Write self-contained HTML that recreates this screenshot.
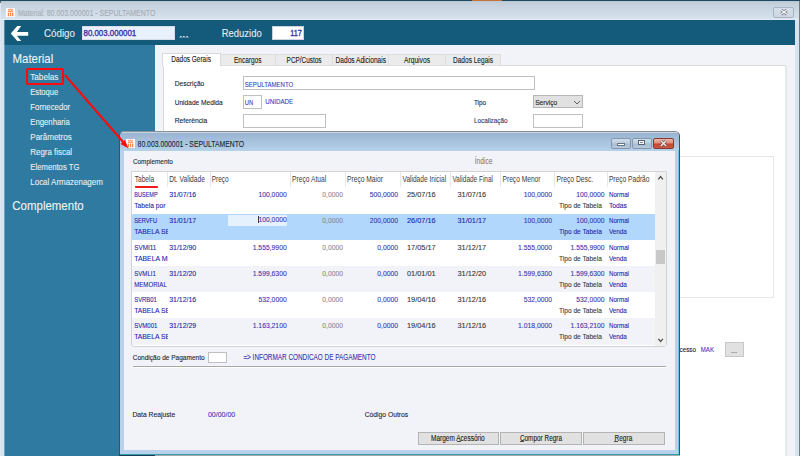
<!DOCTYPE html>
<html><head><meta charset="utf-8"><style>
html,body{margin:0;padding:0;width:800px;height:456px;overflow:hidden;position:relative;background:#f2f3f8;font-family:"Liberation Sans",sans-serif;}
div,span,svg{position:absolute;box-sizing:border-box;}
svg{overflow:visible;font-family:"Liberation Sans",sans-serif;}
.t{white-space:pre;transform-origin:0 0;}
</style></head><body>
<div style="left:0px;top:0px;width:800px;height:1px;background:#1b4a62;"></div>
<div style="left:472px;top:0px;width:30px;height:1px;background:#c87434;"></div>
<div style="left:0px;top:1px;width:800px;height:455px;background:#d6e3f1;"></div>
<div style="left:0px;top:3px;width:1px;height:453px;background:#dfe7f0;"></div>
<div style="left:0px;top:1px;width:2px;height:2px;background:#6a6e74;"></div>
<div style="left:799px;top:1px;width:1px;height:455px;background:#777a7e;"></div>
<div style="left:1px;top:1px;width:798px;height:19px;background:linear-gradient(#b9c6d3,#c3cfdb 2px,#d5e1ed 17px,#e6eef8);"></div>
<div style="left:6px;top:8px;width:9px;height:9px;background:#fff;"></div>
<svg style="left:6px;top:8px" width="9" height="9" viewBox="0 0 9 9"><g fill="#f8742f" opacity="0.85"><rect x="1.8" y="4.6" width="1.3" height="3.6"/><rect x="3.9" y="4.6" width="1.3" height="3.6"/><rect x="6.0" y="4.6" width="1.3" height="3.6"/></g><g stroke="#f8742f" stroke-width="1.1" fill="none" opacity="0.75"><path d="M2 1.2 L4.5 4 L7 1.2 M2 4 L4.5 1.2 L7 4"/></g></svg>
<svg style="left:17px;top:3px;" width="143" height="18"><text x="1.00" y="13" font-size="9.30" fill="#a3aab3" stroke="#a3aab3" stroke-width="0.1" textLength="137.40" lengthAdjust="spacingAndGlyphs">Material: 80.003.000001 - SEPULTAMENTO</text></svg>
<div style="left:773px;top:7px;width:21px;height:11px;background:linear-gradient(#d6dfe9,#ccd7e3);border:1px solid #aab4c4;border-radius:2px;"></div>
<svg style="left:779px;top:8px" width="10" height="9" viewBox="0 0 10 9"><path d="M2.3 2 L7.7 6.3 M7.7 2 L2.3 6.3" stroke="#70757c" stroke-width="2.8"/><path d="M2.3 2 L7.7 6.3 M7.7 2 L2.3 6.3" stroke="#f4f5f6" stroke-width="1.4"/></svg>
<div style="left:4px;top:20px;width:791px;height:25px;background:#135a7b;"></div>
<div style="left:4px;top:20px;width:1px;height:25px;background:#5f8aa4;"></div>
<svg style="left:0px;top:0px" width="40" height="50" viewBox="0 0 40 50"><path d="M10.8 33.6 L17.3 26.1 L21.2 26.1 L16.9 32.0 L28.2 32.0 L28.2 35.8 L16.9 35.8 L21.2 40.9 L17.3 40.9 Z" fill="#fff"/></svg>
<svg style="left:43px;top:22px;" width="36" height="21"><text x="1.00" y="15" font-size="10.76" fill="#e4ebf1" stroke="#e4ebf1" stroke-width="0.1" textLength="31.00" lengthAdjust="spacingAndGlyphs">Código</text></svg>
<div style="left:82px;top:26px;width:93px;height:14px;background:#e8f1fc;border:1px solid #d6dde6;"></div>
<svg style="left:82px;top:24px;" width="58" height="17"><text x="1.50" y="12" font-size="8.58" fill="#3c30a8" stroke="#3c30a8" stroke-width="0.35" textLength="52.70" lengthAdjust="spacingAndGlyphs">80.003.000001</text></svg>
<svg style="left:178px;top:25px;" width="15" height="17"><text x="1.30" y="12" font-size="8.72" fill="#ffffff" stroke="#ffffff" stroke-width="0.1" textLength="9.21" lengthAdjust="spacingAndGlyphs">...</text></svg>
<div style="left:179px;top:37px;width:10px;height:1px;background:#5d8cab;"></div>
<svg style="left:220px;top:22px;" width="46" height="21"><text x="1.70" y="15" font-size="10.76" fill="#e4ebf1" stroke="#e4ebf1" stroke-width="0.1" textLength="40.00" lengthAdjust="spacingAndGlyphs">Reduzido</text></svg>
<div style="left:272px;top:26px;width:32px;height:14px;background:#ffffff;border:1px solid #c8d4e0;"></div>
<svg style="left:289px;top:24px;" width="17" height="17"><text x="1.20" y="12" font-size="8.58" fill="#3c30a8" stroke="#3c30a8" stroke-width="0.35" textLength="11.60" lengthAdjust="spacingAndGlyphs">117</text></svg>
<div style="left:4px;top:45px;width:151px;height:411px;background:#2e7aa0;"></div>
<div style="left:4px;top:45px;width:1px;height:411px;background:#6fa3c2;"></div>
<svg style="left:11px;top:46px;" width="46" height="23"><text x="1.50" y="17" font-size="12.06" fill="#eef3f7" stroke="#eef3f7" stroke-width="0.1" textLength="40.80" lengthAdjust="spacingAndGlyphs">Material</text></svg>
<svg style="left:29px;top:67px;" width="33" height="17"><text x="1.30" y="13" font-size="8.72" fill="#e9eff4" stroke="#e9eff4" stroke-width="0.1" textLength="28.00" lengthAdjust="spacingAndGlyphs">Tabelas</text></svg>
<svg style="left:29px;top:82px;" width="33" height="17"><text x="1.30" y="13" font-size="8.72" fill="#e9eff4" stroke="#e9eff4" stroke-width="0.1" textLength="27.90" lengthAdjust="spacingAndGlyphs">Estoque</text></svg>
<svg style="left:29px;top:97px;" width="45" height="17"><text x="1.30" y="13" font-size="8.72" fill="#e9eff4" stroke="#e9eff4" stroke-width="0.1" textLength="39.90" lengthAdjust="spacingAndGlyphs">Fornecedor</text></svg>
<svg style="left:29px;top:112px;" width="45" height="17"><text x="1.30" y="13" font-size="8.72" fill="#e9eff4" stroke="#e9eff4" stroke-width="0.1" textLength="39.59" lengthAdjust="spacingAndGlyphs">Engenharia</text></svg>
<svg style="left:29px;top:127px;" width="47" height="17"><text x="1.30" y="13" font-size="8.72" fill="#e9eff4" stroke="#e9eff4" stroke-width="0.1" textLength="41.40" lengthAdjust="spacingAndGlyphs">Parâmetros</text></svg>
<svg style="left:29px;top:142px;" width="47" height="17"><text x="1.30" y="13" font-size="8.72" fill="#e9eff4" stroke="#e9eff4" stroke-width="0.1" textLength="41.80" lengthAdjust="spacingAndGlyphs">Regra fiscal</text></svg>
<svg style="left:29px;top:157px;" width="55" height="17"><text x="1.30" y="13" font-size="8.72" fill="#e9eff4" stroke="#e9eff4" stroke-width="0.1" textLength="49.20" lengthAdjust="spacingAndGlyphs">Elementos TG</text></svg>
<svg style="left:29px;top:172px;" width="78" height="17"><text x="1.30" y="13" font-size="8.72" fill="#e9eff4" stroke="#e9eff4" stroke-width="0.1" textLength="72.50" lengthAdjust="spacingAndGlyphs">Local Armazenagem</text></svg>
<svg style="left:11px;top:193px;" width="77" height="23"><text x="1.30" y="17" font-size="12.35" fill="#eef3f7" stroke="#eef3f7" stroke-width="0.1" textLength="71.40" lengthAdjust="spacingAndGlyphs">Complemento</text></svg>
<div style="left:26px;top:68px;width:38px;height:17px;border:2px solid #ff0a0a;border-radius:2px;"></div>
<div style="left:155px;top:45px;width:640px;height:411px;background:#f2f3f8;"></div>
<div style="left:163px;top:65px;width:623px;height:391px;background:#fff;border:1px solid #dadada;border-bottom:none;"></div>
<div style="left:220px;top:54px;width:56px;height:12px;background:#ebebeb;border:1px solid #dedede;"></div>
<div style="left:275px;top:54px;width:58px;height:12px;background:#ebebeb;border:1px solid #dedede;"></div>
<div style="left:332px;top:54px;width:57px;height:12px;background:#ebebeb;border:1px solid #dedede;"></div>
<div style="left:388px;top:54px;width:58px;height:12px;background:#ebebeb;border:1px solid #dedede;"></div>
<div style="left:445px;top:54px;width:56px;height:12px;background:#ebebeb;border:1px solid #dedede;"></div>
<div style="left:162px;top:53px;width:59px;height:13px;background:#fff;border:1px solid #d9d9d9;border-bottom:none;"></div>
<svg style="left:170px;top:50px;" width="45" height="17"><text x="1.30" y="12" font-size="8.14" fill="#202020" stroke="#202020" stroke-width="0.1" textLength="39.60" lengthAdjust="spacingAndGlyphs">Dados Gerais</text></svg>
<svg style="left:233px;top:52px;" width="33" height="17"><text x="1.00" y="11" font-size="8.14" fill="#202020" stroke="#202020" stroke-width="0.1" textLength="27.40" lengthAdjust="spacingAndGlyphs">Encargos</text></svg>
<svg style="left:285px;top:52px;" width="41" height="17"><text x="1.60" y="11" font-size="8.14" fill="#202020" stroke="#202020" stroke-width="0.1" textLength="35.00" lengthAdjust="spacingAndGlyphs">PCP/Custos</text></svg>
<svg style="left:334px;top:52px;" width="56" height="17"><text x="1.60" y="11" font-size="8.14" fill="#202020" stroke="#202020" stroke-width="0.1" textLength="50.40" lengthAdjust="spacingAndGlyphs">Dados Adicionais</text></svg>
<svg style="left:403px;top:52px;" width="31" height="17"><text x="1.00" y="11" font-size="8.14" fill="#202020" stroke="#202020" stroke-width="0.1" textLength="26.00" lengthAdjust="spacingAndGlyphs">Arquivos</text></svg>
<svg style="left:452px;top:52px;" width="46" height="17"><text x="1.00" y="11" font-size="8.14" fill="#202020" stroke="#202020" stroke-width="0.1" textLength="40.00" lengthAdjust="spacingAndGlyphs">Dados Legais</text></svg>
<svg style="left:173px;top:74px;" width="35" height="16"><text x="1.70" y="12" font-size="7.85" fill="#202028" stroke="#202028" stroke-width="0.1" textLength="29.60" lengthAdjust="spacingAndGlyphs">Descrição</text></svg>
<svg style="left:173px;top:93px;" width="53" height="16"><text x="1.70" y="12" font-size="7.85" fill="#202028" stroke="#202028" stroke-width="0.1" textLength="47.99" lengthAdjust="spacingAndGlyphs">Unidade Medida</text></svg>
<svg style="left:173px;top:112px;" width="38" height="16"><text x="1.70" y="11" font-size="7.85" fill="#202028" stroke="#202028" stroke-width="0.1" textLength="32.69" lengthAdjust="spacingAndGlyphs">Referência</text></svg>
<div style="left:243px;top:76px;width:292px;height:14px;background:#fff;border:1px solid #c0c0c0;"></div>
<svg style="left:243px;top:75px;" width="54" height="16"><text x="1.80" y="12" font-size="7.70" fill="#3a3ac0" stroke="#3a3ac0" stroke-width="0.1" textLength="48.40" lengthAdjust="spacingAndGlyphs">SEPULTAMENTO</text></svg>
<div style="left:243px;top:95px;width:19px;height:14px;background:#fff;border:1px solid #c0c0c0;"></div>
<svg style="left:243px;top:94px;" width="14" height="15"><text x="1.80" y="11" font-size="7.27" fill="#3a3ac0" stroke="#3a3ac0" stroke-width="0.1" textLength="8.40" lengthAdjust="spacingAndGlyphs">UN</text></svg>
<svg style="left:264px;top:92px;" width="33" height="16"><text x="1.20" y="12" font-size="7.85" fill="#3a3ac0" stroke="#3a3ac0" stroke-width="0.1" textLength="28.00" lengthAdjust="spacingAndGlyphs">UNIDADE</text></svg>
<div style="left:243px;top:114px;width:83px;height:14px;background:#fff;border:1px solid #c0c0c0;"></div>
<svg style="left:472px;top:93px;" width="18" height="16"><text x="1.90" y="12" font-size="7.85" fill="#202028" stroke="#202028" stroke-width="0.1" textLength="12.20" lengthAdjust="spacingAndGlyphs">Tipo</text></svg>
<div style="left:533px;top:95px;width:50px;height:13px;background:#e1e1e1;border:1px solid #b6b6b6;"></div>
<svg style="left:534px;top:93px;" width="27" height="16"><text x="1.20" y="12" font-size="7.85" fill="#202020" stroke="#202020" stroke-width="0.1" textLength="22.00" lengthAdjust="spacingAndGlyphs">Serviço</text></svg>
<svg style="left:573px;top:100px" width="8" height="5" viewBox="0 0 8 5"><path d="M1 1 L4 4 L7 1" stroke="#505050" stroke-width="0.9" fill="none"/></svg>
<svg style="left:472px;top:112px;" width="39" height="16"><text x="1.90" y="11" font-size="7.85" fill="#303060" stroke="#303060" stroke-width="0.1" textLength="33.70" lengthAdjust="spacingAndGlyphs">Localização</text></svg>
<div style="left:533px;top:114px;width:50px;height:14px;background:#fff;border:1px solid #c0c0c0;"></div>
<div style="left:600px;top:156px;width:174px;height:142px;background:#fff;border:1px solid #e6e6e6;"></div>
<svg style="left:678px;top:340px;" width="22" height="16"><text x="1.50" y="12" font-size="7.85" fill="#202020" stroke="#202020" stroke-width="0.1" textLength="16.50" lengthAdjust="spacingAndGlyphs">cesso</text></svg>
<svg style="left:699px;top:340px;" width="19" height="16"><text x="1.80" y="12" font-size="7.85" fill="#3a3ac0" stroke="#3a3ac0" stroke-width="0.1" textLength="13.20" lengthAdjust="spacingAndGlyphs">MAK</text></svg>
<div style="left:725px;top:342px;width:19px;height:15px;background:#e1e1e1;border:1px solid #c8c8c8;"></div>
<svg style="left:730px;top:343px;" width="12" height="15"><text x="1.00" y="10" font-size="7.27" fill="#404040" stroke="#404040" stroke-width="0.1" textLength="6.00" lengthAdjust="spacingAndGlyphs">...</text></svg>
<div style="left:785px;top:65px;width:2px;height:391px;background:#e7e7e7;"></div>
<div style="left:119px;top:131px;width:561px;height:325px;background:#b9d1ea;border:1px solid #4a4e54;border-top-color:#8a9098;border-radius:5px 5px 0 0;"></div>
<div style="left:120px;top:132px;width:559px;height:19px;background:linear-gradient(#c8d4e0,#c8d4e0 1px,#98b4d2 1px,#b6d1ea);border-radius:4px 4px 0 0;"></div>
<div style="left:678px;top:150px;width:1px;height:305px;background:#6cc7e0;"></div>
<div style="left:124px;top:151px;width:551px;height:299px;background:#f2f3f8;"></div>
<div style="left:120px;top:454px;width:559px;height:1px;background:#2f9ea8;"></div>
<div style="left:119px;top:455px;width:36px;height:1px;background:#1b3d56;"></div>
<div style="left:155px;top:455px;width:525px;height:1px;background:#a9a9ab;"></div>
<div style="left:126px;top:139px;width:9px;height:9px;background:#fff;"></div>
<svg style="left:126px;top:139px" width="9" height="9" viewBox="0 0 9 9"><g fill="#f8742f" opacity="0.85"><rect x="1.8" y="4.6" width="1.3" height="3.6"/><rect x="3.9" y="4.6" width="1.3" height="3.6"/><rect x="6.0" y="4.6" width="1.3" height="3.6"/></g><g stroke="#f8742f" stroke-width="1.1" fill="none" opacity="0.75"><path d="M2 1.2 L4.5 4 L7 1.2 M2 4 L4.5 1.2 L7 4"/></g></svg>
<svg style="left:136px;top:134px;" width="112" height="17"><text x="1.60" y="13" font-size="8.72" fill="#1c2430" stroke="#1c2430" stroke-width="0.1" textLength="106.50" lengthAdjust="spacingAndGlyphs">80.003.000001 - SEPULTAMENTO</text></svg>
<div style="left:611px;top:138px;width:20px;height:11px;background:linear-gradient(#cfdcea,#bccddf 45%,#a9bdd3 55%,#b6c8dc);border:1px solid #8797aa;border-radius:2px;"></div>
<div style="left:632px;top:138px;width:20px;height:11px;background:linear-gradient(#cfdcea,#bccddf 45%,#a9bdd3 55%,#b6c8dc);border:1px solid #8797aa;border-radius:2px;"></div>
<div style="left:617px;top:143px;width:8px;height:3px;background:#fff;border:1px solid #6a7380;"></div>
<div style="left:638px;top:140px;width:7px;height:5px;background:#fff;border:1px solid #5a6370;"></div>
<div style="left:640px;top:142px;width:3px;height:1px;background:#6a8ab0;"></div>
<div style="left:653px;top:138px;width:21px;height:11px;background:linear-gradient(#eab4a8,#dc8d7c 48%,#c4432c 52%,#cc5a44);border:1px solid #8a3a30;border-radius:2px;"></div>
<svg style="left:658px;top:139px" width="11" height="9" viewBox="0 0 11 9"><path d="M2.8 1.8 L8.2 7 M8.2 1.8 L2.8 7" stroke="#6a4a48" stroke-width="2.6"/><path d="M2.8 1.8 L8.2 7 M8.2 1.8 L2.8 7" stroke="#f6f2f0" stroke-width="1.3"/></svg>
<svg style="left:131px;top:152px;" width="45" height="16"><text x="1.90" y="12" font-size="7.70" fill="#202028" stroke="#202028" stroke-width="0.1" textLength="39.90" lengthAdjust="spacingAndGlyphs">Complemento</text></svg>
<svg style="left:473px;top:152px;" width="23" height="17"><text x="1.70" y="12" font-size="8.28" fill="#747474" textLength="17.80" lengthAdjust="spacingAndGlyphs">Índice</text></svg>
<div style="left:131px;top:171px;width:536px;height:176px;background:#fff;border:1px solid #d3d3d3;border-radius:0 0 3px 3px;"></div>
<div style="left:655px;top:172px;width:11px;height:174px;background:#f0f0f0;"></div>
<div style="left:656px;top:250px;width:9px;height:14px;background:#c8c8c8;"></div>
<svg style="left:657px;top:175px" width="8" height="6" viewBox="0 0 8 6"><path d="M1.3 4.3 L3.6 1.6 L5.9 4.3" stroke="#505050" stroke-width="1.3" fill="none"/></svg>
<svg style="left:657px;top:337px" width="8" height="6" viewBox="0 0 8 6"><path d="M1.3 1.8 L3.6 4.5 L5.9 1.8" stroke="#505050" stroke-width="1.3" fill="none"/></svg>
<div style="left:167px;top:172px;width:1px;height:16px;background:#e8e8e8;"></div>
<div style="left:210px;top:172px;width:1px;height:16px;background:#e8e8e8;"></div>
<div style="left:290px;top:172px;width:1px;height:16px;background:#e8e8e8;"></div>
<div style="left:345px;top:172px;width:1px;height:16px;background:#e8e8e8;"></div>
<div style="left:400px;top:172px;width:1px;height:16px;background:#e8e8e8;"></div>
<div style="left:450px;top:172px;width:1px;height:16px;background:#e8e8e8;"></div>
<div style="left:500px;top:172px;width:1px;height:16px;background:#e8e8e8;"></div>
<div style="left:554px;top:172px;width:1px;height:16px;background:#e8e8e8;"></div>
<div style="left:607px;top:172px;width:1px;height:16px;background:#e8e8e8;"></div>
<svg style="left:133px;top:171px;" width="25" height="17"><text x="1.70" y="11" font-size="8.14" fill="#3c3c3c" textLength="19.49" lengthAdjust="spacingAndGlyphs">Tabela</text></svg>
<div style="left:135px;top:186px;width:23px;height:2px;background:#ee1c1c;border-radius:1px;"></div>
<svg style="left:168px;top:171px;" width="41" height="17"><text x="1.20" y="11" font-size="8.14" fill="#3c3c3c" textLength="35.70" lengthAdjust="spacingAndGlyphs">Dt. Validade</text></svg>
<svg style="left:210px;top:171px;" width="23" height="17"><text x="1.70" y="11" font-size="8.14" fill="#3c3c3c" textLength="17.00" lengthAdjust="spacingAndGlyphs">Preço</text></svg>
<svg style="left:291px;top:171px;" width="40" height="17"><text x="1.00" y="11" font-size="8.14" fill="#3c3c3c" textLength="34.20" lengthAdjust="spacingAndGlyphs">Preço Atual</text></svg>
<svg style="left:346px;top:171px;" width="41" height="17"><text x="1.00" y="11" font-size="8.14" fill="#3c3c3c" textLength="36.00" lengthAdjust="spacingAndGlyphs">Preço Maior</text></svg>
<svg style="left:401px;top:171px;" width="49" height="17"><text x="1.50" y="11" font-size="8.14" fill="#3c3c3c" textLength="43.70" lengthAdjust="spacingAndGlyphs">Validade Inicial</text></svg>
<svg style="left:451px;top:171px;" width="46" height="17"><text x="1.50" y="11" font-size="8.14" fill="#3c3c3c" textLength="40.50" lengthAdjust="spacingAndGlyphs">Validade Final</text></svg>
<svg style="left:501px;top:171px;" width="43" height="17"><text x="1.50" y="11" font-size="8.14" fill="#3c3c3c" textLength="38.00" lengthAdjust="spacingAndGlyphs">Preço Menor</text></svg>
<svg style="left:555px;top:171px;" width="42" height="17"><text x="1.40" y="11" font-size="8.14" fill="#3c3c3c" textLength="36.80" lengthAdjust="spacingAndGlyphs">Preço Desc.</text></svg>
<svg style="left:607px;top:171px;" width="46" height="17"><text x="1.90" y="11" font-size="8.14" fill="#3c3c3c" textLength="40.60" lengthAdjust="spacingAndGlyphs">Preço Padrão</text></svg>
<div style="left:132px;top:187px;width:523px;height:27px;background:#fff;"></div>
<div style="left:132px;top:214px;width:523px;height:26px;background:#b1d7fd;"></div>
<div style="left:132px;top:240px;width:523px;height:26px;background:#fff;"></div>
<div style="left:132px;top:266px;width:523px;height:26px;background:#f2f3f8;"></div>
<div style="left:132px;top:292px;width:523px;height:26px;background:#fff;"></div>
<div style="left:132px;top:318px;width:523px;height:27px;background:#f2f3f8;"></div>
<div style="left:228px;top:215px;width:59px;height:11px;background:#e6f1fe;"></div>
<div style="left:258px;top:216px;width:1px;height:7px;background:#3a3a3a;"></div>
<div style="left:135px;top:186px;width:23px;height:2px;background:#ee1c1c;border-radius:1px;"></div>
<svg style="left:133px;top:186px;" width="29" height="16"><text x="1.20" y="11" font-size="7.99" fill="#2323a8" stroke="#2323a8" stroke-width="0.1" textLength="23.50" lengthAdjust="spacingAndGlyphs">BUSEMP</text></svg>
<svg style="left:133px;top:197px;" width="37" height="16"><text x="1.20" y="11" font-size="7.99" fill="#2323a8" stroke="#2323a8" stroke-width="0.1" textLength="31.30" lengthAdjust="spacingAndGlyphs">Tabela por</text></svg>
<svg style="left:168px;top:186px;" width="32" height="16"><text x="1.20" y="11" font-size="7.99" fill="#2323a8" stroke="#2323a8" stroke-width="0.1" textLength="27.00" lengthAdjust="spacingAndGlyphs">31/07/16</text></svg>
<svg style="left:257px;top:186px;" width="34" height="16"><text x="1.45" y="11" font-size="7.99" fill="#3a33b0" stroke="#3a33b0" stroke-width="0.1" textLength="28.25" lengthAdjust="spacingAndGlyphs">100,0000</text></svg>
<svg style="left:321px;top:186px;" width="26" height="16"><text x="1.25" y="11" font-size="7.99" fill="#8a8a8a" stroke="#8a8a8a" stroke-width="0.1" textLength="20.75" lengthAdjust="spacingAndGlyphs">0,0000</text></svg>
<svg style="left:368px;top:186px;" width="34" height="16"><text x="1.75" y="11" font-size="7.99" fill="#3a33b0" stroke="#3a33b0" stroke-width="0.1" textLength="28.25" lengthAdjust="spacingAndGlyphs">500,0000</text></svg>
<svg style="left:406px;top:186px;" width="34" height="16"><text x="1.00" y="11" font-size="7.99" fill="#363636" stroke="#363636" stroke-width="0.1" textLength="28.70" lengthAdjust="spacingAndGlyphs">25/07/16</text></svg>
<svg style="left:456px;top:186px;" width="34" height="16"><text x="1.50" y="11" font-size="7.99" fill="#363636" stroke="#363636" stroke-width="0.1" textLength="28.70" lengthAdjust="spacingAndGlyphs">31/07/16</text></svg>
<svg style="left:522px;top:186px;" width="34" height="16"><text x="1.75" y="11" font-size="7.99" fill="#3a33b0" stroke="#3a33b0" stroke-width="0.1" textLength="28.25" lengthAdjust="spacingAndGlyphs">100,0000</text></svg>
<svg style="left:575px;top:186px;" width="34" height="16"><text x="1.25" y="11" font-size="7.99" fill="#3a33b0" stroke="#3a33b0" stroke-width="0.1" textLength="28.25" lengthAdjust="spacingAndGlyphs">100,0000</text></svg>
<svg style="left:607px;top:186px;" width="26" height="16"><text x="1.90" y="11" font-size="7.99" fill="#2323a8" stroke="#2323a8" stroke-width="0.1" textLength="20.10" lengthAdjust="spacingAndGlyphs">Normal</text></svg>
<svg style="left:558px;top:197px;" width="48" height="16"><text x="1.00" y="11" font-size="7.85" fill="#363636" stroke="#363636" stroke-width="0.1" textLength="42.89" lengthAdjust="spacingAndGlyphs">Tipo de Tabela</text></svg>
<svg style="left:607px;top:197px;" width="24" height="16"><text x="1.90" y="11" font-size="7.99" fill="#2323a8" stroke="#2323a8" stroke-width="0.1" textLength="18.00" lengthAdjust="spacingAndGlyphs">Todas</text></svg>
<svg style="left:133px;top:212px;" width="29" height="16"><text x="1.20" y="11" font-size="7.99" fill="#2323a8" stroke="#2323a8" stroke-width="0.1" textLength="23.00" lengthAdjust="spacingAndGlyphs">SERVFU</text></svg>
<svg style="left:133px;top:223px;" width="43" height="16"><text x="1.20" y="11" font-size="7.99" fill="#2323a8" stroke="#2323a8" stroke-width="0.1" textLength="37.80" lengthAdjust="spacingAndGlyphs">TABELA SEI</text></svg>
<svg style="left:168px;top:212px;" width="32" height="16"><text x="1.20" y="11" font-size="7.99" fill="#2323a8" stroke="#2323a8" stroke-width="0.1" textLength="27.00" lengthAdjust="spacingAndGlyphs">31/01/17</text></svg>
<svg style="left:257px;top:211px;" width="34" height="16"><text x="1.45" y="11" font-size="7.99" fill="#3a33b0" stroke="#3a33b0" stroke-width="0.1" textLength="28.25" lengthAdjust="spacingAndGlyphs">100,0000</text></svg>
<svg style="left:321px;top:212px;" width="26" height="16"><text x="1.25" y="11" font-size="7.99" fill="#8a8a8a" stroke="#8a8a8a" stroke-width="0.1" textLength="20.75" lengthAdjust="spacingAndGlyphs">0,0000</text></svg>
<svg style="left:368px;top:212px;" width="34" height="16"><text x="1.75" y="11" font-size="7.99" fill="#3a33b0" stroke="#3a33b0" stroke-width="0.1" textLength="28.25" lengthAdjust="spacingAndGlyphs">200,0000</text></svg>
<svg style="left:406px;top:212px;" width="34" height="16"><text x="1.00" y="11" font-size="7.99" fill="#2323a8" stroke="#2323a8" stroke-width="0.1" textLength="28.70" lengthAdjust="spacingAndGlyphs">26/07/16</text></svg>
<svg style="left:456px;top:212px;" width="34" height="16"><text x="1.50" y="11" font-size="7.99" fill="#2323a8" stroke="#2323a8" stroke-width="0.1" textLength="28.70" lengthAdjust="spacingAndGlyphs">31/01/17</text></svg>
<svg style="left:522px;top:212px;" width="34" height="16"><text x="1.75" y="11" font-size="7.99" fill="#3a33b0" stroke="#3a33b0" stroke-width="0.1" textLength="28.25" lengthAdjust="spacingAndGlyphs">100,0000</text></svg>
<svg style="left:575px;top:212px;" width="34" height="16"><text x="1.25" y="11" font-size="7.99" fill="#3a33b0" stroke="#3a33b0" stroke-width="0.1" textLength="28.25" lengthAdjust="spacingAndGlyphs">100,0000</text></svg>
<svg style="left:607px;top:212px;" width="26" height="16"><text x="1.90" y="11" font-size="7.99" fill="#2323a8" stroke="#2323a8" stroke-width="0.1" textLength="20.10" lengthAdjust="spacingAndGlyphs">Normal</text></svg>
<svg style="left:558px;top:223px;" width="48" height="16"><text x="1.00" y="11" font-size="7.85" fill="#2323a8" stroke="#2323a8" stroke-width="0.1" textLength="42.89" lengthAdjust="spacingAndGlyphs">Tipo de Tabela</text></svg>
<svg style="left:607px;top:223px;" width="23" height="16"><text x="1.90" y="11" font-size="7.99" fill="#2323a8" stroke="#2323a8" stroke-width="0.1" textLength="18.00" lengthAdjust="spacingAndGlyphs">Venda</text></svg>
<svg style="left:133px;top:238px;" width="28" height="16"><text x="1.20" y="12" font-size="7.99" fill="#2323a8" stroke="#2323a8" stroke-width="0.1" textLength="22.10" lengthAdjust="spacingAndGlyphs">SVMI11</text></svg>
<svg style="left:133px;top:249px;" width="43" height="16"><text x="1.20" y="12" font-size="7.99" fill="#2323a8" stroke="#2323a8" stroke-width="0.1" textLength="37.80" lengthAdjust="spacingAndGlyphs">TABELA ME</text></svg>
<svg style="left:168px;top:238px;" width="32" height="16"><text x="1.20" y="12" font-size="7.99" fill="#2323a8" stroke="#2323a8" stroke-width="0.1" textLength="27.00" lengthAdjust="spacingAndGlyphs">31/12/90</text></svg>
<svg style="left:251px;top:238px;" width="39" height="16"><text x="1.70" y="12" font-size="7.99" fill="#3a33b0" stroke="#3a33b0" stroke-width="0.1" textLength="34.00" lengthAdjust="spacingAndGlyphs">1.555,9900</text></svg>
<svg style="left:321px;top:238px;" width="26" height="16"><text x="1.25" y="12" font-size="7.99" fill="#8a8a8a" stroke="#8a8a8a" stroke-width="0.1" textLength="20.75" lengthAdjust="spacingAndGlyphs">0,0000</text></svg>
<svg style="left:376px;top:238px;" width="26" height="16"><text x="1.25" y="12" font-size="7.99" fill="#3a33b0" stroke="#3a33b0" stroke-width="0.1" textLength="20.75" lengthAdjust="spacingAndGlyphs">0,0000</text></svg>
<svg style="left:406px;top:238px;" width="34" height="16"><text x="1.00" y="12" font-size="7.99" fill="#363636" stroke="#363636" stroke-width="0.1" textLength="28.70" lengthAdjust="spacingAndGlyphs">17/05/17</text></svg>
<svg style="left:456px;top:238px;" width="34" height="16"><text x="1.50" y="12" font-size="7.99" fill="#363636" stroke="#363636" stroke-width="0.1" textLength="28.70" lengthAdjust="spacingAndGlyphs">31/12/17</text></svg>
<svg style="left:517px;top:238px;" width="39" height="16"><text x="1.00" y="12" font-size="7.99" fill="#3a33b0" stroke="#3a33b0" stroke-width="0.1" textLength="34.00" lengthAdjust="spacingAndGlyphs">1.555,0000</text></svg>
<svg style="left:569px;top:238px;" width="39" height="16"><text x="1.50" y="12" font-size="7.99" fill="#3a33b0" stroke="#3a33b0" stroke-width="0.1" textLength="34.00" lengthAdjust="spacingAndGlyphs">1.555,9900</text></svg>
<svg style="left:607px;top:238px;" width="26" height="16"><text x="1.90" y="12" font-size="7.99" fill="#2323a8" stroke="#2323a8" stroke-width="0.1" textLength="20.10" lengthAdjust="spacingAndGlyphs">Normal</text></svg>
<svg style="left:558px;top:249px;" width="48" height="16"><text x="1.00" y="12" font-size="7.85" fill="#363636" stroke="#363636" stroke-width="0.1" textLength="42.89" lengthAdjust="spacingAndGlyphs">Tipo de Tabela</text></svg>
<svg style="left:607px;top:249px;" width="23" height="16"><text x="1.90" y="12" font-size="7.99" fill="#2323a8" stroke="#2323a8" stroke-width="0.1" textLength="18.00" lengthAdjust="spacingAndGlyphs">Venda</text></svg>
<svg style="left:133px;top:264px;" width="27" height="16"><text x="1.20" y="12" font-size="7.99" fill="#2323a8" stroke="#2323a8" stroke-width="0.1" textLength="21.70" lengthAdjust="spacingAndGlyphs">SVMLI1</text></svg>
<svg style="left:133px;top:275px;" width="38" height="16"><text x="1.20" y="12" font-size="7.99" fill="#2323a8" stroke="#2323a8" stroke-width="0.1" textLength="32.60" lengthAdjust="spacingAndGlyphs">MEMORIAL</text></svg>
<svg style="left:168px;top:264px;" width="32" height="16"><text x="1.20" y="12" font-size="7.99" fill="#2323a8" stroke="#2323a8" stroke-width="0.1" textLength="27.00" lengthAdjust="spacingAndGlyphs">31/12/20</text></svg>
<svg style="left:251px;top:264px;" width="39" height="16"><text x="1.70" y="12" font-size="7.99" fill="#3a33b0" stroke="#3a33b0" stroke-width="0.1" textLength="34.00" lengthAdjust="spacingAndGlyphs">1.599,6300</text></svg>
<svg style="left:321px;top:264px;" width="26" height="16"><text x="1.25" y="12" font-size="7.99" fill="#8a8a8a" stroke="#8a8a8a" stroke-width="0.1" textLength="20.75" lengthAdjust="spacingAndGlyphs">0,0000</text></svg>
<svg style="left:376px;top:264px;" width="26" height="16"><text x="1.25" y="12" font-size="7.99" fill="#3a33b0" stroke="#3a33b0" stroke-width="0.1" textLength="20.75" lengthAdjust="spacingAndGlyphs">0,0000</text></svg>
<svg style="left:406px;top:264px;" width="34" height="16"><text x="1.00" y="12" font-size="7.99" fill="#363636" stroke="#363636" stroke-width="0.1" textLength="28.70" lengthAdjust="spacingAndGlyphs">01/01/01</text></svg>
<svg style="left:456px;top:264px;" width="34" height="16"><text x="1.50" y="12" font-size="7.99" fill="#363636" stroke="#363636" stroke-width="0.1" textLength="28.70" lengthAdjust="spacingAndGlyphs">31/12/20</text></svg>
<svg style="left:517px;top:264px;" width="39" height="16"><text x="1.00" y="12" font-size="7.99" fill="#3a33b0" stroke="#3a33b0" stroke-width="0.1" textLength="34.00" lengthAdjust="spacingAndGlyphs">1.599,6300</text></svg>
<svg style="left:569px;top:264px;" width="39" height="16"><text x="1.50" y="12" font-size="7.99" fill="#3a33b0" stroke="#3a33b0" stroke-width="0.1" textLength="34.00" lengthAdjust="spacingAndGlyphs">1.599,6300</text></svg>
<svg style="left:607px;top:264px;" width="26" height="16"><text x="1.90" y="12" font-size="7.99" fill="#2323a8" stroke="#2323a8" stroke-width="0.1" textLength="20.10" lengthAdjust="spacingAndGlyphs">Normal</text></svg>
<svg style="left:558px;top:275px;" width="48" height="16"><text x="1.00" y="12" font-size="7.85" fill="#363636" stroke="#363636" stroke-width="0.1" textLength="42.89" lengthAdjust="spacingAndGlyphs">Tipo de Tabela</text></svg>
<svg style="left:607px;top:275px;" width="23" height="16"><text x="1.90" y="12" font-size="7.99" fill="#2323a8" stroke="#2323a8" stroke-width="0.1" textLength="18.00" lengthAdjust="spacingAndGlyphs">Venda</text></svg>
<svg style="left:133px;top:290px;" width="28" height="16"><text x="1.20" y="12" font-size="7.99" fill="#2323a8" stroke="#2323a8" stroke-width="0.1" textLength="22.70" lengthAdjust="spacingAndGlyphs">SVRB01</text></svg>
<svg style="left:133px;top:301px;" width="43" height="16"><text x="1.20" y="12" font-size="7.99" fill="#2323a8" stroke="#2323a8" stroke-width="0.1" textLength="37.80" lengthAdjust="spacingAndGlyphs">TABELA SEI</text></svg>
<svg style="left:168px;top:290px;" width="32" height="16"><text x="1.20" y="12" font-size="7.99" fill="#2323a8" stroke="#2323a8" stroke-width="0.1" textLength="27.00" lengthAdjust="spacingAndGlyphs">31/12/16</text></svg>
<svg style="left:257px;top:290px;" width="34" height="16"><text x="1.45" y="12" font-size="7.99" fill="#3a33b0" stroke="#3a33b0" stroke-width="0.1" textLength="28.25" lengthAdjust="spacingAndGlyphs">532,0000</text></svg>
<svg style="left:321px;top:290px;" width="26" height="16"><text x="1.25" y="12" font-size="7.99" fill="#8a8a8a" stroke="#8a8a8a" stroke-width="0.1" textLength="20.75" lengthAdjust="spacingAndGlyphs">0,0000</text></svg>
<svg style="left:376px;top:290px;" width="26" height="16"><text x="1.25" y="12" font-size="7.99" fill="#3a33b0" stroke="#3a33b0" stroke-width="0.1" textLength="20.75" lengthAdjust="spacingAndGlyphs">0,0000</text></svg>
<svg style="left:406px;top:290px;" width="34" height="16"><text x="1.00" y="12" font-size="7.99" fill="#363636" stroke="#363636" stroke-width="0.1" textLength="28.70" lengthAdjust="spacingAndGlyphs">19/04/16</text></svg>
<svg style="left:456px;top:290px;" width="34" height="16"><text x="1.50" y="12" font-size="7.99" fill="#363636" stroke="#363636" stroke-width="0.1" textLength="28.70" lengthAdjust="spacingAndGlyphs">31/12/16</text></svg>
<svg style="left:522px;top:290px;" width="34" height="16"><text x="1.75" y="12" font-size="7.99" fill="#3a33b0" stroke="#3a33b0" stroke-width="0.1" textLength="28.25" lengthAdjust="spacingAndGlyphs">532,0000</text></svg>
<svg style="left:575px;top:290px;" width="34" height="16"><text x="1.25" y="12" font-size="7.99" fill="#3a33b0" stroke="#3a33b0" stroke-width="0.1" textLength="28.25" lengthAdjust="spacingAndGlyphs">532,0000</text></svg>
<svg style="left:607px;top:290px;" width="26" height="16"><text x="1.90" y="12" font-size="7.99" fill="#2323a8" stroke="#2323a8" stroke-width="0.1" textLength="20.10" lengthAdjust="spacingAndGlyphs">Normal</text></svg>
<svg style="left:558px;top:301px;" width="48" height="16"><text x="1.00" y="12" font-size="7.85" fill="#363636" stroke="#363636" stroke-width="0.1" textLength="42.89" lengthAdjust="spacingAndGlyphs">Tipo de Tabela</text></svg>
<svg style="left:607px;top:301px;" width="23" height="16"><text x="1.90" y="12" font-size="7.99" fill="#2323a8" stroke="#2323a8" stroke-width="0.1" textLength="18.00" lengthAdjust="spacingAndGlyphs">Venda</text></svg>
<svg style="left:133px;top:317px;" width="29" height="16"><text x="1.20" y="11" font-size="7.99" fill="#2323a8" stroke="#2323a8" stroke-width="0.1" textLength="23.30" lengthAdjust="spacingAndGlyphs">SVM001</text></svg>
<svg style="left:133px;top:328px;" width="43" height="16"><text x="1.20" y="11" font-size="7.99" fill="#2323a8" stroke="#2323a8" stroke-width="0.1" textLength="37.80" lengthAdjust="spacingAndGlyphs">TABELA SEI</text></svg>
<svg style="left:168px;top:317px;" width="32" height="16"><text x="1.20" y="11" font-size="7.99" fill="#2323a8" stroke="#2323a8" stroke-width="0.1" textLength="27.00" lengthAdjust="spacingAndGlyphs">31/12/29</text></svg>
<svg style="left:251px;top:317px;" width="39" height="16"><text x="1.70" y="11" font-size="7.99" fill="#3a33b0" stroke="#3a33b0" stroke-width="0.1" textLength="34.00" lengthAdjust="spacingAndGlyphs">1.163,2100</text></svg>
<svg style="left:321px;top:317px;" width="26" height="16"><text x="1.25" y="11" font-size="7.99" fill="#8a8a8a" stroke="#8a8a8a" stroke-width="0.1" textLength="20.75" lengthAdjust="spacingAndGlyphs">0,0000</text></svg>
<svg style="left:376px;top:317px;" width="26" height="16"><text x="1.25" y="11" font-size="7.99" fill="#3a33b0" stroke="#3a33b0" stroke-width="0.1" textLength="20.75" lengthAdjust="spacingAndGlyphs">0,0000</text></svg>
<svg style="left:406px;top:317px;" width="34" height="16"><text x="1.00" y="11" font-size="7.99" fill="#363636" stroke="#363636" stroke-width="0.1" textLength="28.70" lengthAdjust="spacingAndGlyphs">19/04/16</text></svg>
<svg style="left:456px;top:317px;" width="34" height="16"><text x="1.50" y="11" font-size="7.99" fill="#363636" stroke="#363636" stroke-width="0.1" textLength="28.70" lengthAdjust="spacingAndGlyphs">31/12/16</text></svg>
<svg style="left:517px;top:317px;" width="39" height="16"><text x="1.00" y="11" font-size="7.99" fill="#3a33b0" stroke="#3a33b0" stroke-width="0.1" textLength="34.00" lengthAdjust="spacingAndGlyphs">1.018,0000</text></svg>
<svg style="left:569px;top:317px;" width="39" height="16"><text x="1.50" y="11" font-size="7.99" fill="#3a33b0" stroke="#3a33b0" stroke-width="0.1" textLength="34.00" lengthAdjust="spacingAndGlyphs">1.163,2100</text></svg>
<svg style="left:607px;top:317px;" width="26" height="16"><text x="1.90" y="11" font-size="7.99" fill="#2323a8" stroke="#2323a8" stroke-width="0.1" textLength="20.10" lengthAdjust="spacingAndGlyphs">Normal</text></svg>
<svg style="left:558px;top:328px;" width="48" height="16"><text x="1.00" y="11" font-size="7.85" fill="#363636" stroke="#363636" stroke-width="0.1" textLength="42.89" lengthAdjust="spacingAndGlyphs">Tipo de Tabela</text></svg>
<svg style="left:607px;top:328px;" width="23" height="16"><text x="1.90" y="11" font-size="7.99" fill="#2323a8" stroke="#2323a8" stroke-width="0.1" textLength="18.00" lengthAdjust="spacingAndGlyphs">Venda</text></svg>
<div style="left:168px;top:199px;width:32px;height:15px;background:#fff;"></div>
<div style="left:168px;top:226px;width:32px;height:14px;background:#b1d7fd;"></div>
<div style="left:168px;top:252px;width:32px;height:14px;background:#fff;"></div>
<div style="left:168px;top:278px;width:32px;height:14px;background:#f2f3f8;"></div>
<div style="left:168px;top:304px;width:32px;height:14px;background:#fff;"></div>
<div style="left:168px;top:330px;width:32px;height:15px;background:#f2f3f8;"></div>
<svg style="left:131px;top:348px;" width="77" height="16"><text x="1.70" y="12" font-size="7.85" fill="#202028" stroke="#202028" stroke-width="0.1" textLength="72.00" lengthAdjust="spacingAndGlyphs">Condição de Pagamento</text></svg>
<div style="left:208px;top:352px;width:19px;height:11px;background:#fff;border:1px solid #c0c0c0;"></div>
<svg style="left:242px;top:349px;" width="138" height="17"><text x="1.40" y="11" font-size="8.14" fill="#3838b0" stroke="#3838b0" stroke-width="0.1" textLength="132.00" lengthAdjust="spacingAndGlyphs">=&gt; INFORMAR CONDICAO DE PAGAMENTO</text></svg>
<div style="left:133px;top:366px;width:533px;height:1px;background:#a8a8a8;"></div>
<div style="left:133px;top:367px;width:533px;height:1px;background:#ffffff;"></div>
<svg style="left:131px;top:406px;" width="48" height="16"><text x="1.50" y="11" font-size="7.85" fill="#202028" stroke="#202028" stroke-width="0.1" textLength="42.70" lengthAdjust="spacingAndGlyphs">Data Reajuste</text></svg>
<svg style="left:206px;top:406px;" width="33" height="16"><text x="1.90" y="11" font-size="7.85" fill="#4433b8" stroke="#4433b8" stroke-width="0.1" textLength="27.30" lengthAdjust="spacingAndGlyphs">00/00/00</text></svg>
<svg style="left:363px;top:406px;" width="49" height="16"><text x="1.70" y="11" font-size="7.85" fill="#202028" stroke="#202028" stroke-width="0.1" textLength="43.50" lengthAdjust="spacingAndGlyphs">Código Outros</text></svg>
<div style="left:418px;top:432px;width:81px;height:13px;background:#e1e1e1;border:1px solid #b4b4b4;"></div>
<svg style="left:430px;top:429px;" width="59" height="17"><text x="1.00" y="12" font-size="8.14" fill="#202020" stroke="#202020" stroke-width="0.1" textLength="53.70" lengthAdjust="spacingAndGlyphs">Margem Acessório</text></svg>
<div style="left:500px;top:432px;width:82px;height:13px;background:#e1e1e1;border:1px solid #b4b4b4;"></div>
<svg style="left:518px;top:429px;" width="48" height="17"><text x="1.90" y="12" font-size="8.14" fill="#202020" stroke="#202020" stroke-width="0.1" textLength="42.09" lengthAdjust="spacingAndGlyphs">Compor Regra</text></svg>
<div style="left:583px;top:432px;width:82px;height:13px;background:#e1e1e1;border:1px solid #b4b4b4;"></div>
<svg style="left:613px;top:429px;" width="23" height="17"><text x="1.50" y="12" font-size="8.14" fill="#202020" stroke="#202020" stroke-width="0.1" textLength="17.79" lengthAdjust="spacingAndGlyphs">Regra</text></svg>
<div style="left:457px;top:441px;width:4px;height:1px;background:#505050;"></div>
<div style="left:520px;top:441px;width:4px;height:1px;background:#505050;"></div>
<div style="left:614px;top:441px;width:4px;height:1px;background:#505050;"></div>
<svg style="left:0;top:0" width="800" height="456" viewBox="0 0 800 456"><path d="M64.9 75 L124 143" stroke="#ff0a0a" stroke-width="2"/><path d="M128.6 148.6 L120.6 143.9 L124.9 140 Z" fill="#ff0a0a"/></svg>
</body></html>
